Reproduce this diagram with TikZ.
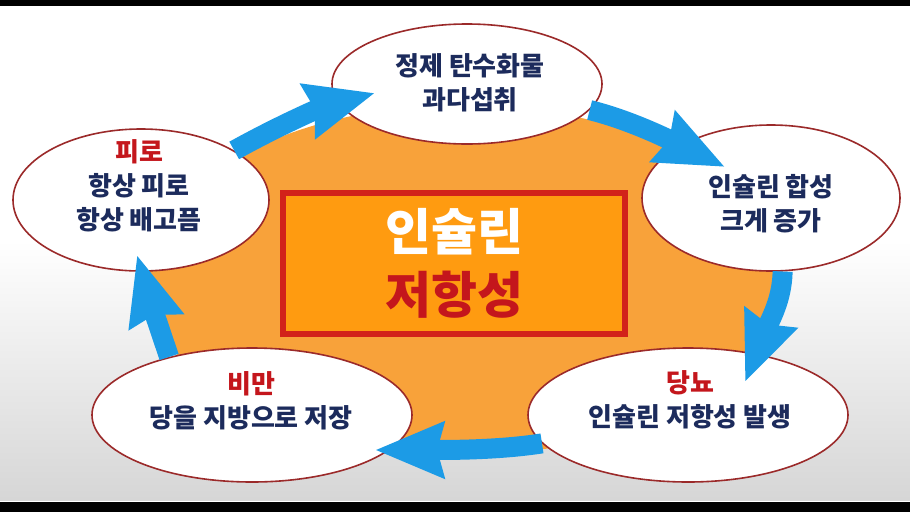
\documentclass[tikz,border=0pt]{standalone}
\usepackage{fontspec}
\newfontfamily\kr{Noto Sans CJK KR}
\usetikzlibrary{arrows.meta,shapes.geometric}
\definecolor{navy}{HTML}{1C2B5C}
\definecolor{cred}{HTML}{C4161C}
\definecolor{bordred}{HTML}{9B2A2A}
\definecolor{blobor}{HTML}{F8A23A}
\definecolor{boxor}{HTML}{FF9B10}
\definecolor{boxred}{HTML}{D2221A}
\definecolor{arrblue}{HTML}{1C9BE6}
\definecolor{bggray}{HTML}{D6D6D6}
\tikzset{
  bubble/.style={ellipse, draw=bordred, line width=1.6pt, fill=white, inner sep=0pt},
  bubtext/.style={align=center, text=navy, font=\kr\bfseries\fontsize{26}{34}\selectfont},
  centerbox/.style={draw=boxred, line width=6pt, fill=boxor, minimum width=342pt, minimum height=141pt, align=center, font=\kr\bfseries\fontsize{50}{63}\selectfont},
  cyclearrow/.style={draw=arrblue, line width=20pt, -{Stealth[length=68pt,width=54pt,inset=6pt]}}
}
\begin{document}
\begin{tikzpicture}[x=1pt,y=-1pt]
\useasboundingbox (0,0) rectangle (910,512);
\fill[white] (0,0) rectangle (910,512);
\shade[top color=white,bottom color=bggray] (0,240) rectangle (910,500);
\fill[black] (0,0) rectangle (910,6);
\fill[black] (0,502) rectangle (910,512);
% orange blob
\fill[blobor] (462,280) ellipse [x radius=315pt, y radius=175pt];
% centre box
\node[centerbox] (C) at (454,263) {{\color{white}인슐린}\\{\color{cred}저항성}};
% bubbles
\node[bubble, minimum width=270pt, minimum height=120pt] (T) at (467,84) {};
\node[bubble, minimum width=256pt, minimum height=142pt] (L) at (141,200) {};
\node[bubble, minimum width=258pt, minimum height=146pt] (R) at (771,198) {};
\node[bubble, minimum width=320pt, minimum height=134pt] (BL) at (252,415) {};
\node[bubble, minimum width=320pt, minimum height=134pt] (BR) at (688,415) {};
% arrow tips
\coordinate (t1) at (375,93);
\coordinate (t2) at (725,167);
\coordinate (t3) at (745,382);
\coordinate (t4) at (375,450);
\coordinate (t5) at (137,255);
\draw[cyclearrow] (L.28) .. controls (280,125) and (320,108) .. (t1);
\draw[cyclearrow] (T.-12) .. controls (630,120) and (670,140) .. (t2);
\draw[cyclearrow] (R.-81) .. controls (782,300) and (770,320) .. (t3);
\draw[cyclearrow] (BR.191) .. controls (500,450) and (450,450) .. (t4);
\draw[cyclearrow] (BL.145) .. controls (160,330) and (150,300) .. (t5);
% texts
\node[bubtext] (Ttxt) at (470,83) {정제 탄수화물\\과다섭취};
\node[bubtext] (Ltxt) at (139,186) {{\color{cred}피로}\\항상 피로\\항상 배고픔};
\node[bubtext] (Rtxt) at (771,204) {인슐린 합성\\크게 증가};
\node[bubtext] (BLtxt) at (251,401) {{\color{cred}비만}\\당을 지방으로 저장};
\node[bubtext] (BRtxt) at (690,400) {{\color{cred}당뇨}\\인슐린 저항성 발생};
\end{tikzpicture}
\end{document}
